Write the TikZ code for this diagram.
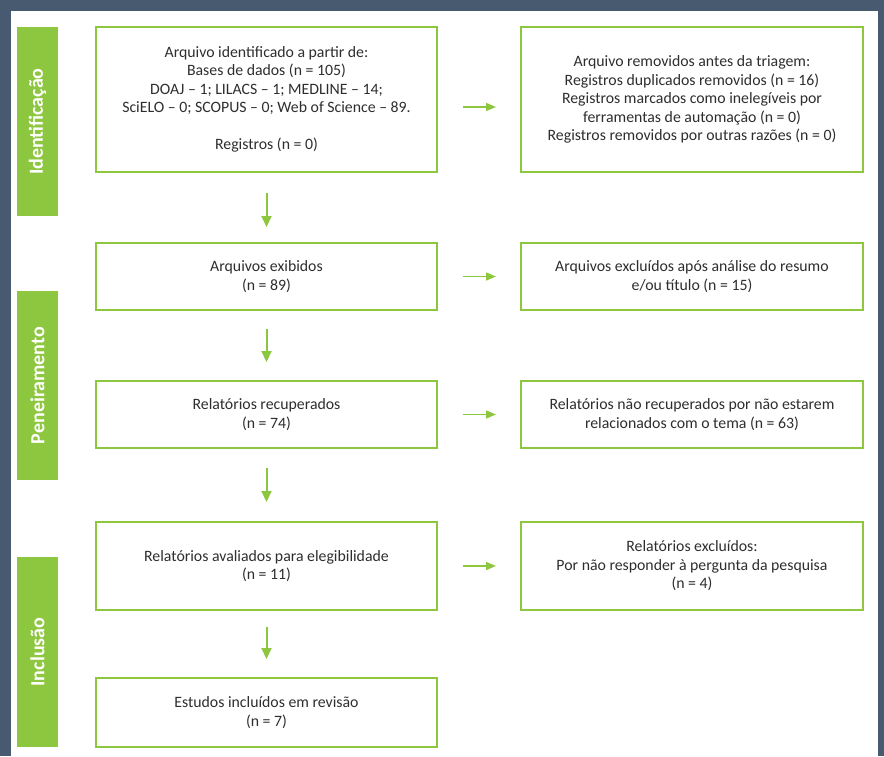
\documentclass[tikz,border=0pt]{standalone}
\usepackage{fontspec}
\setmainfont{Carlito}
\usetikzlibrary{arrows.meta,calc}
\definecolor{framec}{HTML}{475A6F}
\definecolor{grn}{HTML}{8DC63F}
\definecolor{txt}{HTML}{2E2E2E}
\begin{document}
\begin{tikzpicture}[x=1pt,y=-1pt,
  box/.style={draw=grn, line width=2pt, fill=white, align=center, inner sep=0pt,
    text=txt, font=\fontsize{15.8}{18.5}\selectfont},
  lbox/.style={box, minimum width=341pt},
  rbox/.style={box, minimum width=342pt},
  phasebar/.style={fill=grn, inner sep=0pt, minimum width=41pt},
  phasetxt/.style={text=white, inner sep=0pt, font=\fontsize{20}{22}\selectfont\bfseries, rotate=90},
  harr/.style={draw=grn, line width=1.5pt, -{Triangle[length=10pt,width=8pt]}},
  varr/.style={draw=grn, line width=2pt, -{Triangle[length=11pt,width=10pt]}}
]
\useasboundingbox (0,0) rectangle (884,756);
% frame
\fill[framec] (0,0) rectangle (884,10.5);
\fill[framec] (0,0) rectangle (10.5,756);
\fill[framec] (878,0) rectangle (884,756);

% phase bars
\node[phasebar, minimum height=189pt] (p1) at (37.5,121.5) {};
\node[phasebar, minimum height=189pt] (p2) at (37.5,385.5) {};
\node[phasebar, minimum height=190pt] (p3) at (37.5,652) {};
\node[phasetxt] (t1) at (p1.center) {Identificação};
\node[phasetxt] (t2) at (p2.center) {Peneiramento};
\node[phasetxt] (t3) at (p3.center) {Inclusão};

% left column
\node[lbox, minimum height=145pt] (b1) at (266.5,99.5)
  {Arquivo identificado a partir de:\\Bases de dados (n = 105)\\DOAJ – 1; LILACS – 1; MEDLINE – 14;\\SciELO – 0; SCOPUS – 0; Web of Science – 89.\\[18.5pt]Registros (n = 0)};
\node[lbox, minimum height=67pt] (b2) at (266.5,276.5) {Arquivos exibidos\\(n = 89)};
\node[lbox, minimum height=67pt] (b3) at (266.5,414.5) {Relatórios recuperados\\(n = 74)};
\node[lbox, minimum height=88pt] (b4) at (266.5,566) {Relatórios avaliados para elegibilidade\\(n = 11)};
\node[lbox, minimum height=69pt] (b5) at (266.5,712.5) {Estudos incluídos em revisão\\(n = 7)};

% right column
\node[rbox, minimum height=145pt] (r1) at (692,99.5)
  {Arquivo removidos antes da triagem:\\Registros duplicados removidos (n = 16)\\Registros marcados como inelegíveis por\\ferramentas de automação (n = 0)\\Registros removidos por outras razões (n = 0)};
\node[rbox, minimum height=67pt] (r2) at (692,276.5) {Arquivos excluídos após análise do resumo\\e/ou título (n = 15)};
\node[rbox, minimum height=67pt] (r3) at (692,414.5) {Relatórios não recuperados por não estarem\\relacionados com o tema (n = 63)};
\node[rbox, minimum height=88pt] (r4) at (692,566) {Relatórios excluídos:\\Por não responder à pergunta da pesquisa\\(n = 4)};

% vertical arrows
\draw[varr, shorten <=20pt, shorten >=15pt] (b1.south) -- (b2.north);
\draw[varr, shorten <=18pt, shorten >=18pt] (b2.south) -- (b3.north);
\draw[varr, shorten <=19pt, shorten >=19pt] (b3.south) -- (b4.north);
\draw[varr, shorten <=16pt, shorten >=18pt] (b4.south) -- (b5.north);

% horizontal arrows
\draw[harr, shorten <=25pt, shorten >=24pt] ([yshift=-7.5pt]b1.east) -- ([yshift=-7.5pt]r1.west);
\draw[harr, shorten <=25pt, shorten >=24pt] (b2.east) -- (r2.west);
\draw[harr, shorten <=25pt, shorten >=24pt] (b3.east) -- (r3.west);
\draw[harr, shorten <=25pt, shorten >=24pt] (b4.east) -- (r4.west);
\end{tikzpicture}
\end{document}
